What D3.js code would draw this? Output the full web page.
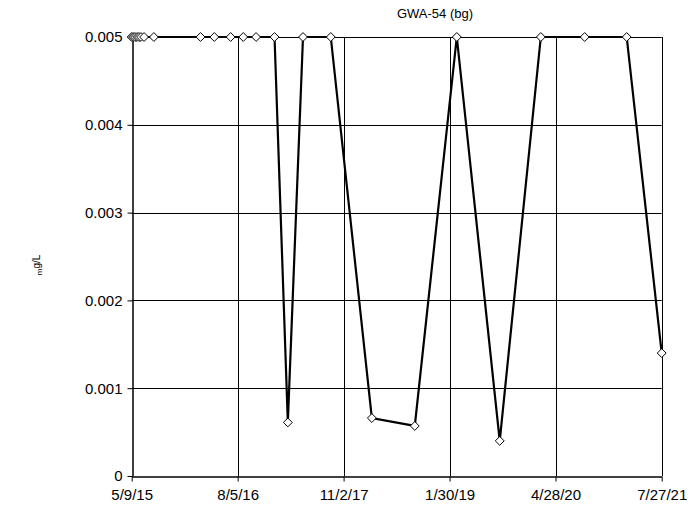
<!DOCTYPE html>
<html><head><meta charset="utf-8">
<script src="https://cdn.jsdelivr.net/npm/d3@7"></script>
<style>body{margin:0;background:#fff}svg{display:block}text{font-family:Arial,"Liberation Sans",sans-serif;fill:#000}</style>
</head><body><svg id="c" width="695" height="509"></svg>
<script>
const title = "GWA-54 (bg)";
const yLabel = "mg/L";
const dates = ["2015-05-09","2015-05-15","2015-05-23","2015-06-01","2015-06-09","2015-06-18","2015-07-01","2015-08-12",
  "2016-02-28","2016-04-27","2016-07-06","2016-08-29","2016-10-23","2017-01-10","2017-03-08","2017-05-12","2017-09-08",
  "2018-03-03","2018-09-03","2019-03-02","2019-09-02","2020-02-25","2020-08-31","2021-02-27","2021-07-27"];
const values = [0.005,0.005,0.005,0.005,0.005,0.005,0.005,0.005,
  0.005,0.005,0.005,0.005,0.005,0.005,0.00061,0.005,0.005,
  0.00066,0.00057,0.005,0.0004,0.005,0.005,0.005,0.0014];
const xTickLabels = ["5/9/15","8/5/16","11/2/17","1/30/19","4/28/20","7/27/21"];
const yTicks = [0,0.001,0.002,0.003,0.004,0.005];

const parseISO = d3.utcParse("%Y-%m-%d");
const parseTick = d3.utcParse("%m/%d/%y");
const data = dates.map((d,i)=>({date:parseISO(d), v:values[i]}));
const xTicks = xTickLabels.map(parseTick);

const svg = d3.select("#c");
const L=131.7, R=661.7, T=37, B=476;
const x = d3.scaleUtc().domain([xTicks[0], xTicks[xTicks.length-1]]).range([L,R]);
const y = d3.scaleLinear().domain([0,0.005]).range([B,T]);

// gridlines
svg.append("g").selectAll("line.h").data(yTicks.slice(1)).join("line")
  .attr("x1",L).attr("x2",R).attr("y1",d=>Math.round(y(d))+0.5).attr("y2",d=>Math.round(y(d))+0.5)
  .attr("stroke","#000").attr("stroke-width",1);
svg.append("g").selectAll("line.v").data(xTicks.slice(1)).join("line")
  .attr("x1",d=>Math.round(x(d))+0.5).attr("x2",d=>Math.round(x(d))+0.5).attr("y1",T).attr("y2",B)
  .attr("stroke","#000").attr("stroke-width",1);

// axes
const fmtIdx = new Map(xTicks.map((t,i)=>[+t, xTickLabels[i]]));
const xAxis = d3.axisBottom(x).tickValues(xTicks).tickFormat(d=>fmtIdx.get(+d)).tickSize(5).tickSizeOuter(0);
const gx = svg.append("g").attr("transform",`translate(0,${Math.round(B)+0.5})`).call(xAxis);
gx.select(".domain").attr("stroke","#000").attr("stroke-width",1.5);
gx.selectAll(".tick line").attr("stroke","#000");
gx.selectAll("text").attr("font-size","15px").attr("dy","1.05em").style("font-family","Arial, 'Liberation Sans', sans-serif");

const yAxis = d3.axisLeft(y).tickValues(yTicks).tickFormat(d=>d===0?"0":d3.format(".3f")(d)).tickSize(5).tickSizeOuter(0);
const gy = svg.append("g").attr("transform",`translate(${Math.round(L)+0.5},0)`).call(yAxis);
gy.select(".domain").attr("stroke","#000").attr("stroke-width",1.5);
gy.selectAll(".tick line").attr("stroke","#000");
gy.selectAll("text").attr("font-size","15px").attr("x",-10).style("font-family","Arial, 'Liberation Sans', sans-serif");

// data line
const line = d3.line().x(d=>x(d.date)).y(d=>y(d.v));
svg.append("path").datum(data).attr("d",line).attr("fill","none").attr("stroke","#000").attr("stroke-width",2.2).attr("stroke-linejoin","miter");

// markers
const sym = d3.symbol().type(d3.symbolDiamond2).size(50);
svg.append("g").selectAll("path").data(data).join("path")
  .attr("d",sym).attr("transform",d=>`translate(${x(d.date)},${y(d.v)})`)
  .attr("fill","#fff").attr("stroke","#000").attr("stroke-width",1);

// title
svg.append("text").attr("x",435).attr("y",18).attr("text-anchor","middle").attr("font-size","13px").text(title);

// y label
const yl = svg.append("text").attr("transform","translate(42,265) rotate(-90)").attr("text-anchor","middle").attr("font-size","10px");
yl.append("tspan").attr("font-size","8px").text(yLabel.slice(0,1));
yl.append("tspan").attr("dy","-2").text(yLabel.slice(1));
</script></body></html>
